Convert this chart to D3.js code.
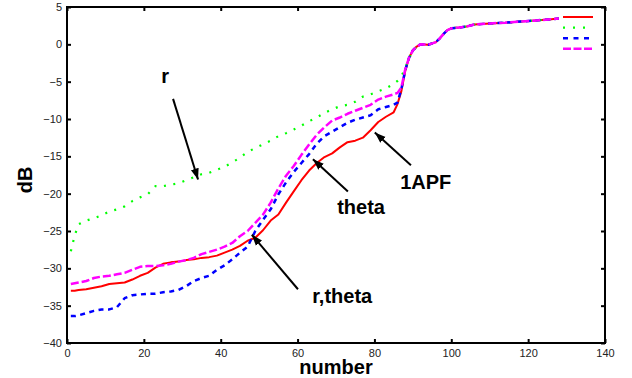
<!DOCTYPE html>
<html>
<head>
<meta charset="utf-8">
<script src="https://cdn.jsdelivr.net/npm/d3@7"></script>
<style>
  body { margin: 0; background: #fff; }
  text { font-family: Arial, "Liberation Sans", sans-serif; }
</style>
</head>
<body>
<div id="graf"></div>
<script>
// Datos
const numbers = [1, 2, 3, 5, 7, 9, 11, 13, 15, 17, 19, 21, 23, 25, 27, 29, 31, 33, 35, 37, 39, 41, 43, 45, 47, 49,
  51, 53, 55, 57, 59, 61, 63, 65, 67, 69, 71, 73, 75, 77, 79, 81, 83, 85, 86, 87, 88, 89, 90, 91, 92, 94, 96, 97,
  98, 99, 100, 102, 104, 106, 110, 114, 118, 122, 126, 128]

const apf = [-33.0, -33.0, -32.9, -32.8, -32.6, -32.4, -32.1, -32.0, -31.9, -31.5, -31.0, -30.6, -29.9, -29.4,
  -29.2, -29.1, -28.9, -28.8, -28.6, -28.5, -28.3, -27.9, -27.5, -27.0, -26.3, -25.9, -24.9, -23.6, -22.8, -21.2,
  -19.7, -18.2, -16.9, -15.9, -15.1, -14.6, -13.8, -13.1, -12.9, -12.5, -11.5, -10.4, -9.7, -9.1, -8.0, -6.3,
  -3.6, -1.8, -0.8, -0.3, 0.0, -0.05, 0.3, 0.8, 1.4, 1.9, 2.15, 2.25, 2.4, 2.65, 2.8, 2.9, 3.05, 3.2, 3.35, 3.45]

const rOnly = [-27.7, -25.6, -24.1, -23.6, -23.3, -22.9, -22.4, -22.1, -21.7, -21.0, -20.5, -20.1, -19.0, -19.0,
  -18.8, -18.6, -18.2, -17.8, -17.4, -17.2, -16.8, -16.4, -15.8, -15.2, -14.4, -13.9, -13.4, -12.9, -12.3, -11.9,
  -11.4, -10.9, -10.3, -9.8, -9.2, -8.7, -8.3, -8.1, -7.7, -7.0, -6.7, -6.3, -5.9, -5.3, -4.9, -4.3, -3.2, -1.9,
  -0.9, -0.3, 0.0, 0.0, 0.3, 0.8, 1.4, 1.9, 2.15, 2.25, 2.4, 2.65, 2.8, 2.9, 3.05, 3.2, 3.35, 3.45]

const rTheta = [-36.4, -36.4, -36.3, -36.0, -35.7, -35.5, -35.5, -35.2, -34.0, -33.6, -33.5, -33.4, -33.4, -33.2,
  -33.1, -32.9, -32.4, -31.7, -31.3, -31.0, -30.2, -29.6, -28.8, -27.9, -27.1, -25.0, -23.5, -22.1, -20.1, -18.5,
  -17.1, -15.9, -14.7, -13.3, -12.3, -11.7, -11.1, -10.5, -10.1, -9.8, -9.5, -8.7, -8.4, -8.1, -7.8, -6.0, -3.5,
  -1.8, -0.8, -0.3, 0.0, -0.05, 0.3, 0.8, 1.4, 1.9, 2.15, 2.25, 2.4, 2.65, 2.8, 2.9, 3.05, 3.2, 3.35, 3.45]

const theta = [-32.1, -32.0, -31.9, -31.7, -31.3, -31.1, -31.0, -30.8, -30.6, -30.2, -29.8, -29.7, -29.7, -29.6,
  -29.4, -29.1, -28.9, -28.6, -28.1, -27.8, -27.5, -27.1, -26.6, -25.7, -25.0, -23.9, -22.8, -21.2, -19.3, -17.6,
  -16.3, -14.8, -13.4, -12.1, -11.1, -10.2, -9.8, -9.3, -8.9, -8.5, -8.1, -7.4, -7.0, -6.7, -6.5, -5.8, -3.4,
  -1.8, -0.8, -0.3, 0.0, -0.05, 0.3, 0.8, 1.4, 1.9, 2.15, 2.25, 2.4, 2.65, 2.8, 2.9, 3.05, 3.2, 3.35, 3.45]

const xTicks = [0, 20, 40, 60, 80, 100, 120, 140]
const yTicks = [-40, -35, -30, -25, -20, -15, -10, -5, 0, 5]

const series = [
  { name: "1APF", values: apf, color: "#ff0000", dash: null, width: 2 },
  { name: "r", values: rOnly, color: "#00ff00", dash: "2,7.5", width: 2.2 },
  { name: "r,theta", values: rTheta, color: "#0000ff", dash: "5,4.5", width: 2.5 },
  { name: "theta", values: theta, color: "#ff00ff", dash: "8,3", width: 2.5 },
]

// Anotaciones: texto y flecha (en unidades de datos)
const notas = [
  { text: "r", tx: 24.5, ty: -5.2, from: [27.6, -7.3], to: [34.1, -18.1] },
  { text: "theta", tx: 70.3, ty: -22.7, from: [73.1, -19.7], to: [64.0, -15.4] },
  { text: "1APF", tx: 86.7, ty: -19.4, from: [89.5, -16.2], to: [80.1, -11.8] },
  { text: "r,theta", tx: 63.8, ty: -34.6, from: [60.1, -32.8], to: [48.1, -25.5] },
]

// Dimensiones
const anchoTotal = 632
const altoTotal = 378
const margins = { top: 7, right: 27, bottom: 35, left: 67 }
const ancho = anchoTotal - margins.left - margins.right
const alto = altoTotal - margins.top - margins.bottom

const svg = d3.select("#graf")
  .append("svg")
  .attr("width", anchoTotal)
  .attr("height", altoTotal)

const g = svg.append("g")
  .attr("transform", `translate(${margins.left}, ${margins.top})`)

// Escaladores
const x = d3.scaleLinear().domain([0, 140]).range([0, ancho])
const y = d3.scaleLinear().domain([-40, 5]).range([alto, 0])

// Ejes
const styleAxis = (sel) => {
  sel.select(".domain").remove()
  sel.selectAll(".tick line").attr("stroke", "#000").attr("stroke-width", 2)
  sel.selectAll(".tick text").attr("fill", "#222").style("font-size", "11px")
}

g.append("g")
  .attr("transform", `translate(0, ${alto})`)
  .call(d3.axisBottom(x).tickValues(xTicks).tickSizeInner(-4).tickSizeOuter(0).tickPadding(6))
  .call(styleAxis)

g.append("g")
  .call(d3.axisLeft(y).tickValues(yTicks).tickSizeInner(-4).tickSizeOuter(0).tickPadding(5))
  .call(styleAxis)

g.append("g")
  .call(d3.axisTop(x).tickValues(xTicks).tickSizeInner(-4).tickSizeOuter(0).tickFormat(""))
  .call(styleAxis)

g.append("g")
  .attr("transform", `translate(${ancho}, 0)`)
  .call(d3.axisRight(y).tickValues(yTicks).tickSizeInner(-4).tickSizeOuter(0).tickFormat(""))
  .call(styleAxis)

// Lineas
const line = d3.line()
  .x((d) => x(d[0]))
  .y((d) => y(d[1]))

g.selectAll("path.serie")
  .data(series)
  .enter()
  .append("path")
  .attr("class", "serie")
  .attr("d", (s) => line(numbers.map((n, i) => [n, s.values[i]])))
  .attr("fill", "none")
  .attr("stroke", (s) => s.color)
  .attr("stroke-width", (s) => s.width)
  .attr("stroke-dasharray", (s) => s.dash)
  .attr("stroke-linejoin", "round")

// Marco
g.append("rect")
  .attr("width", ancho)
  .attr("height", alto)
  .attr("fill", "none")
  .attr("stroke", "#000")
  .attr("stroke-width", 2)

// Leyenda (sin etiquetas)
const leyenda = g.append("g")
  .attr("transform", `translate(${ancho - 42}, 10)`)

leyenda.selectAll("line")
  .data(series)
  .enter()
  .append("line")
  .attr("x1", 0)
  .attr("x2", 30)
  .attr("y1", (d, i) => i * 10.6)
  .attr("y2", (d, i) => i * 10.6)
  .attr("stroke", (s) => s.color)
  .attr("stroke-width", (s) => s.width)
  .attr("stroke-dasharray", (s, i) => [null, "2,8", "5,5.5", "8,2.5"][i])

// Flechas
svg.append("defs")
  .append("marker")
  .attr("id", "punta")
  .attr("markerUnits", "userSpaceOnUse")
  .attr("markerWidth", 12)
  .attr("markerHeight", 10)
  .attr("refX", 11)
  .attr("refY", 5)
  .attr("orient", "auto")
  .append("path")
  .attr("d", "M0,1 L11,5 L0,9 Z")
  .attr("fill", "#000")

g.selectAll("line.flecha")
  .data(notas)
  .enter()
  .append("line")
  .attr("class", "flecha")
  .attr("x1", (d) => x(d.from[0]))
  .attr("y1", (d) => y(d.from[1]))
  .attr("x2", (d) => x(d.to[0]))
  .attr("y2", (d) => y(d.to[1]))
  .attr("stroke", "#000")
  .attr("stroke-width", 2)
  .attr("marker-end", "url(#punta)")

g.selectAll("text.nota")
  .data(notas)
  .enter()
  .append("text")
  .attr("class", "nota")
  .attr("x", (d) => x(d.tx))
  .attr("y", (d) => y(d.ty))
  .style("font-size", "20px")
  .style("font-weight", "bold")
  .text((d) => d.text)

// Titulos de ejes
svg.append("text")
  .attr("transform", "translate(32, 180) rotate(-90)")
  .attr("text-anchor", "middle")
  .style("font-size", "20px")
  .style("font-weight", "bold")
  .text("dB")

svg.append("text")
  .attr("x", 336)
  .attr("y", 374)
  .attr("text-anchor", "middle")
  .style("font-size", "20px")
  .style("font-weight", "bold")
  .text("number")
</script>
</body>
</html>
